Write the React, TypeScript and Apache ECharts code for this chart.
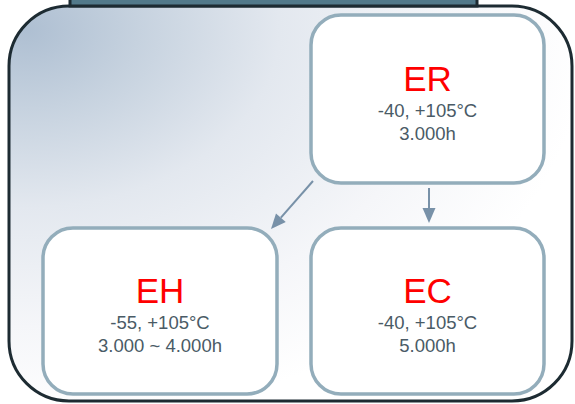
import React, { useEffect, useRef } from "react";
import * as echarts from "echarts";

const codes = ["ER", "EH", "EC"];
const temps = ["-40, +105°C", "-55, +105°C", "-40, +105°C"];
const hours = ["3.000h", "3.000 ~ 4.000h", "5.000h"];
// box layout [x, y, w, h]
const boxes = [
  [311, 15, 233, 168],
  [43, 228, 234, 166],
  [311, 228, 233, 166],
];
// arrows [x1, y1, x2, y2]
const arrows = [
  [313, 181, 271, 229],
  [429, 188, 429, 223],
];

export default function App() {
  const ref = useRef<HTMLDivElement>(null);
  useEffect(() => {
    const chart = echarts.init(ref.current!, null, { renderer: "svg" });
    const els: any[] = [];
    els.push({
      type: "rect",
      shape: { x: 9, y: 6, width: 563, height: 395, r: 60 },
      style: {
        fill: new echarts.graphic.RadialGradient(0.03, 0.06, 1.0, [
          { offset: 0, color: "#aebfd2" },
          { offset: 0.2, color: "#c6d2df" },
          { offset: 0.45, color: "#e3e8ef" },
          { offset: 0.75, color: "#f5f6f9" },
          { offset: 1, color: "#ffffff" },
        ]),
        stroke: "#1d2b32",
        lineWidth: 3,
      },
    });
    els.push({
      type: "rect",
      shape: { x: 70, y: -6, width: 407, height: 12 },
      style: { fill: "#52798a", stroke: "#1d2b32", lineWidth: 3 },
    });
    arrows.forEach(([x1, y1, x2, y2]) => {
      const ang = Math.atan2(y2 - y1, x2 - x1);
      const hl = 15;
      const hw = 6.5;
      const bx = x2 - hl * Math.cos(ang);
      const by = y2 - hl * Math.sin(ang);
      const px = -Math.sin(ang);
      const py = Math.cos(ang);
      els.push({
        type: "line",
        shape: { x1, y1, x2: bx, y2: by },
        style: { stroke: "#7891a8", lineWidth: 2 },
      });
      els.push({
        type: "polygon",
        shape: {
          points: [
            [x2, y2],
            [bx + px * hw, by + py * hw],
            [bx - px * hw, by - py * hw],
          ],
        },
        style: { fill: "#7891a8" },
      });
    });
    boxes.forEach(([x, y, w, h], i) => {
      const cx = x + w / 2;
      const cy = y + h / 2;
      els.push({
        type: "rect",
        shape: { x, y, width: w, height: h, r: 30 },
        style: { fill: "#ffffff", stroke: "#93adbb", lineWidth: 3.5 },
      });
      els.push({
        type: "text",
        x: cx,
        y: cy - 21,
        style: {
          text: codes[i],
          fill: "#ff0000",
          font: "35px 'Liberation Sans', Arial, sans-serif",
          align: "center",
          verticalAlign: "middle",
        },
      });
      els.push({
        type: "text",
        x: cx,
        y: cy + 11,
        style: {
          text: temps[i],
          fill: "#4a5b66",
          font: "18.5px 'Liberation Sans', Arial, sans-serif",
          align: "center",
          verticalAlign: "middle",
        },
      });
      els.push({
        type: "text",
        x: cx,
        y: cy + 34,
        style: {
          text: hours[i],
          fill: "#4a5b66",
          font: "18.5px 'Liberation Sans', Arial, sans-serif",
          align: "center",
          verticalAlign: "middle",
        },
      });
    });
    chart.setOption({ animation: false, graphic: { elements: els } });
    return () => chart.dispose();
  }, []);
  return (
    <div
      ref={ref}
      style={{ width: 575, height: 404, position: "absolute", left: 0, top: 0 }}
    />
  );
}
